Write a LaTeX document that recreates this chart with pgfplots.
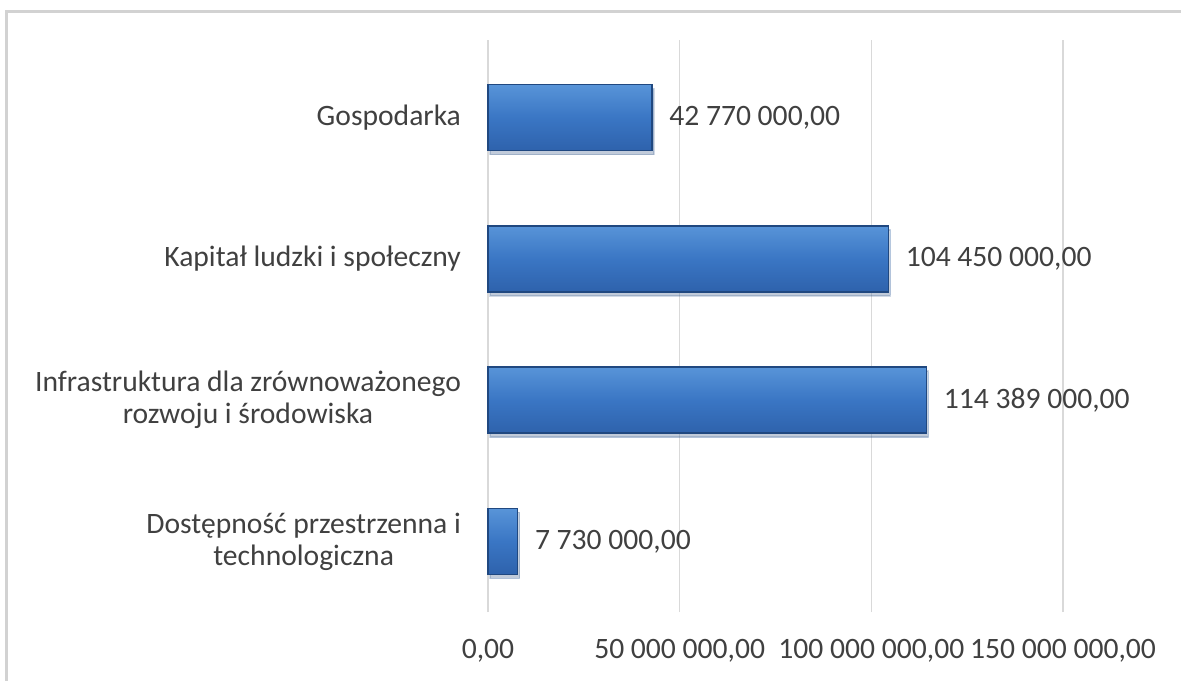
\documentclass[border=0pt]{standalone}
\usepackage{pgfplots}
\pgfplotsset{compat=1.18}
\usepackage{fontspec}
\setmainfont{Carlito}
\usetikzlibrary{shadows}
\definecolor{barmain}{RGB}{58,118,196}
\definecolor{barlight}{RGB}{88,148,216}
\definecolor{barbottom}{RGB}{46,98,172}
\definecolor{bardark}{RGB}{32,72,128}
\definecolor{gridgray}{RGB}{217,217,217}
\definecolor{txt}{RGB}{64,64,64}
\pgfplotsset{mybar/.style={draw=bardark, line width=0.7pt, top color=barlight, bottom color=barbottom, middle color=barmain, bar shift=0pt,
  drop shadow={shadow xshift=1pt, shadow yshift=-2pt, opacity=0.2}}}
\begin{document}
\begin{tikzpicture}
\useasboundingbox (0,0) rectangle (590.5pt,340pt);
\begin{scope}
\clip (0,0) rectangle (590.5pt,340pt);
\draw[gray!35, line width=1.5pt] (3pt,-10pt) rectangle (600pt,334pt);
\end{scope}
\begin{axis}[
  at={(244pt,34pt)}, anchor=south west,
  scale only axis, width=287.5pt, height=286pt,
  xmin=0, xmax=150000000, ymin=-0.5, ymax=3.55,
  xbar, bar width=33pt,
  axis line style={draw=none},
  major tick length=0pt,
  xmajorgrids, grid style={gridgray, line width=0.8pt},
  xtick={0,50000000,100000000,150000000},
  xticklabels={{0,00},{50 000 000,00},{100 000 000,00},{150 000 000,00}},
  scaled x ticks=false,
  ytick={0,1,2,3},
  yticklabels={{Dostępność przestrzenna i\\technologiczna},{Infrastruktura dla zrównoważonego\\rozwoju i środowiska},{Kapitał ludzki i społeczny},{Gospodarka}},
  yticklabel style={align=center, font=\fontsize{14.8}{16}\selectfont, text=txt, xshift=-10pt},
  xticklabel style={font=\fontsize{14.8}{16}\selectfont, text=txt, yshift=-10pt},
  point meta=explicit symbolic,
  nodes near coords={\pgfplotspointmeta},
  nodes near coords style={anchor=west, xshift=5pt, font=\fontsize{14.8}{16}\selectfont, text=txt},
  clip=false,
]
\addplot[mybar] table[x=x, y=y, meta=lab] {
x y lab
7730000 0 7~730~000,00
};
\addplot[mybar] table[x=x, y=y, meta=lab] {
x y lab
114389000 1 114~389~000,00
};
\addplot[mybar] table[x=x, y=y, meta=lab] {
x y lab
104450000 2 104~450~000,00
};
\addplot[mybar] table[x=x, y=y, meta=lab] {
x y lab
42770000 3 42~770~000,00
};
\end{axis}
\end{tikzpicture}
\end{document}
